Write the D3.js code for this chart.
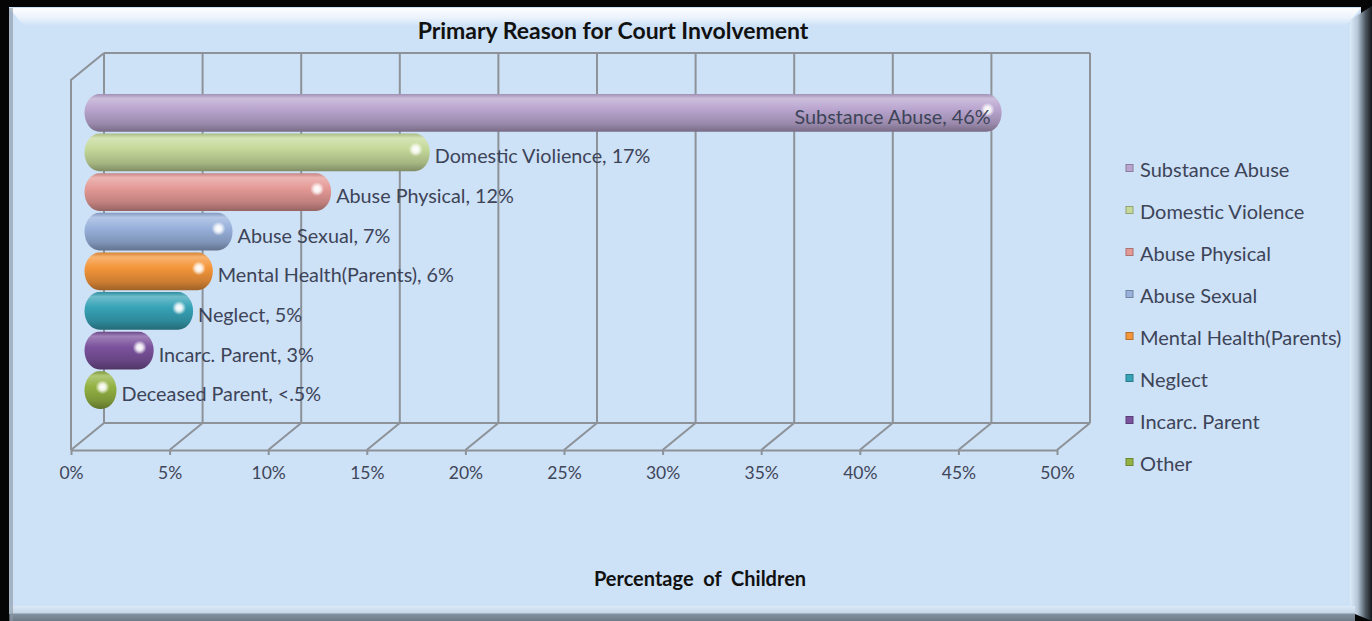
<!DOCTYPE html>
<html>
<head>
<meta charset="utf-8">
<script src="https://cdn.jsdelivr.net/npm/d3@7"></script>
<style>
  html, body { margin: 0; padding: 0; background: #ffffff; }
  svg { display: block; }
  text { font-family: Lato, "Open Sans", sans-serif; }
</style>
</head>
<body>
<svg id="chart" width="1372" height="621"></svg>
<script>
// ---- data ----
const categories = ["Substance Abuse", "Domestic Violience", "Abuse Physical", "Abuse Sexual",
                    "Mental Health(Parents)", "Neglect", "Incarc. Parent", "Deceased Parent"];
const legendNames = ["Substance Abuse", "Domestic Violence", "Abuse Physical", "Abuse Sexual",
                     "Mental Health(Parents)", "Neglect", "Incarc. Parent", "Other"];
const values = [46, 17, 12, 7, 6, 5, 3, 0.4];
const valueLabels = ["46%", "17%", "12%", "7%", "6%", "5%", "3%", "<.5%"];
const tickValues = [0, 5, 10, 15, 20, 25, 30, 35, 40, 45, 50];
const tickLabels = ["0%", "5%", "10%", "15%", "20%", "25%", "30%", "35%", "40%", "45%", "50%"];
const colors = ["#b9a5cf", "#c5d99a", "#e49996", "#98b1dc", "#f4963a", "#37a3b7", "#7b529d", "#93b243"];

const W = 1372, H = 621;
const svg = d3.select("#chart");
const defs = svg.append("defs");

// ---- frame ----
const bg = "#cde1f7";
svg.append("rect").attr("width", W).attr("height", H).attr("fill", "#050505");
svg.append("rect").attr("x", 9).attr("y", 7).attr("width", 1352).attr("height", 607).attr("fill", bg);

const topG = defs.append("linearGradient").attr("id", "topBevel").attr("x1", 0).attr("y1", 0).attr("x2", 0).attr("y2", 1);
topG.append("stop").attr("offset", 0).attr("stop-color", "#ffffff").attr("stop-opacity", 0.95);
topG.append("stop").attr("offset", 0.55).attr("stop-color", "#ffffff").attr("stop-opacity", 0.6);
topG.append("stop").attr("offset", 1).attr("stop-color", "#ffffff").attr("stop-opacity", 0);
svg.append("path").attr("d", "M9,8 L1361,8 L1346,26 L24,26 Z").attr("fill", "url(#topBevel)");

const rightG = defs.append("linearGradient").attr("id", "rightBevel").attr("x1", 0).attr("y1", 0).attr("x2", 1).attr("y2", 0);
rightG.append("stop").attr("offset", 0).attr("stop-color", "#dcebfa");
rightG.append("stop").attr("offset", 0.35).attr("stop-color", "#b6c6d6");
rightG.append("stop").attr("offset", 0.7).attr("stop-color", "#4e5863");
rightG.append("stop").attr("offset", 1).attr("stop-color", "#15181b");
svg.append("path").attr("d", "M1350,20 L1372,6 L1372,621 L1350,612 Z").attr("fill", "url(#rightBevel)");

const botG = defs.append("linearGradient").attr("id", "botBevel").attr("x1", 0).attr("y1", 0).attr("x2", 0).attr("y2", 1);
botG.append("stop").attr("offset", 0).attr("stop-color", "#dbe9f8");
botG.append("stop").attr("offset", 0.45).attr("stop-color", "#c7d6e6");
botG.append("stop").attr("offset", 0.55).attr("stop-color", "#8190a0");
botG.append("stop").attr("offset", 1).attr("stop-color", "#6d7a87");
svg.append("rect").attr("x", 10).attr("y", 606).attr("width", 1345).attr("height", 15).attr("fill", "url(#botBevel)");
svg.append("rect").attr("x", 9).attr("y", 8).attr("width", 4).attr("height", 613).attr("fill", "#8a96a3").attr("opacity", 0.6);

// ---- 3D plot geometry ----
const x = d3.scaleLinear().domain([0, 50]).range([71, 1057]);
const depthX = 33, depthY = -27;
const floorY = 450, wallTop = 53;
const backY = floorY + depthY;
const grid = "#8d9298";

const walls = svg.append("g").attr("fill", "none").attr("stroke", grid).attr("stroke-width", 2);
// back wall gridlines
walls.selectAll("line.v").data(tickValues).join("line")
  .attr("x1", d => x(d) + depthX).attr("x2", d => x(d) + depthX)
  .attr("y1", wallTop).attr("y2", backY);
walls.append("line").attr("x1", x(0) + depthX).attr("x2", x(50) + depthX).attr("y1", wallTop).attr("y2", wallTop);
walls.append("line").attr("x1", x(0) + depthX).attr("x2", x(50) + depthX).attr("y1", backY).attr("y2", backY);
// side wall
walls.append("path").attr("d", `M${x(0)},${floorY} L${x(0)},${wallTop - depthY} L${x(0) + depthX},${wallTop}`);
// floor diagonals
walls.selectAll("line.d").data(tickValues).join("line")
  .attr("x1", d => x(d)).attr("y1", floorY)
  .attr("x2", d => x(d) + depthX).attr("y2", backY);

// front axis with ticks
const axis = d3.axisBottom(x).tickValues(tickValues)
  .tickFormat((d, i) => tickLabels[i]).tickSize(5).tickSizeOuter(0).tickPadding(12);
const ax = svg.append("g").attr("transform", `translate(0,${floorY})`).call(axis);
ax.select(".domain").attr("stroke", grid).attr("stroke-width", 2);
ax.selectAll(".tick line").attr("stroke", grid).attr("stroke-width", 2);
ax.selectAll(".tick text").attr("fill", "#3f4659").attr("font-size", 17.5).attr("font-family", "Lato, sans-serif");

// ---- bars (cylinders at mid depth) ----
const y = d3.scaleBand().domain(categories).range([94, 409]).paddingInner(0.05);
const midX = v => x(v) + depthX / 2;
const bh = y.bandwidth();

colors.forEach((c, i) => {
  const base = d3.color(c);
  const g = defs.append("linearGradient").attr("id", "cyl" + i)
    .attr("x1", 0).attr("y1", 0).attr("x2", 0).attr("y2", 1);
  g.append("stop").attr("offset", 0).attr("stop-color", base.darker(0.4));
  g.append("stop").attr("offset", 0.12).attr("stop-color", d3.interpolateRgb(c, "#ffffff")(0.28));
  g.append("stop").attr("offset", 0.4).attr("stop-color", c);
  g.append("stop").attr("offset", 0.78).attr("stop-color", base.darker(0.5));
  g.append("stop").attr("offset", 1).attr("stop-color", base.darker(1.2));
});
const hl = defs.append("radialGradient").attr("id", "shine");
hl.append("stop").attr("offset", 0).attr("stop-color", "#ffffff").attr("stop-opacity", 1);
hl.append("stop").attr("offset", 0.45).attr("stop-color", "#ffffff").attr("stop-opacity", 0.85);
hl.append("stop").attr("offset", 1).attr("stop-color", "#ffffff").attr("stop-opacity", 0);

const barData = categories.map((name, i) => {
  const x0 = midX(0) - 3;
  const x1 = Math.max(midX(values[i]) + 7, x0 + bh * 0.85);
  return { name, i, v: values[i], label: valueLabels[i], x0, x1 };
});

const bars = svg.append("g");
bars.selectAll("rect").data(barData).join("rect")
  .attr("x", d => d.x0).attr("y", d => y(d.name))
  .attr("width", d => d.x1 - d.x0).attr("height", bh)
  .attr("rx", d => Math.min(15, (d.x1 - d.x0) / 2)).attr("ry", bh / 2)
  .attr("fill", d => `url(#cyl${d.i})`);
bars.selectAll("circle").data(barData).join("circle")
  .attr("cx", d => d.x1 - Math.min(14, (d.x1 - d.x0) / 2))
  .attr("cy", d => y(d.name) + bh * 0.42)
  .attr("r", 7).attr("fill", "url(#shine)");

// data labels
svg.append("g").selectAll("text").data(barData).join("text")
  .attr("x", d => d.i === 0 ? d.x1 - 11 : d.x1 + 5)
  .attr("y", d => y(d.name) + bh / 2 + 3)
  .attr("text-anchor", d => d.i === 0 ? "end" : "start")
  .attr("dominant-baseline", "central")
  .attr("fill", "#3d4458").attr("font-size", 19.8)
  .text(d => `${d.name}, ${d.label}`);

// ---- legend ----
const ly = d3.scaleLinear().domain([0, 7]).range([168, 462]);
const leg = svg.append("g").selectAll("g").data(legendNames).join("g")
  .attr("transform", (d, i) => `translate(1126,${ly(i)})`);
leg.append("rect").attr("x", 0).attr("y", -3.5).attr("width", 7).attr("height", 7)
  .attr("fill", (d, i) => colors[i]).attr("stroke", (d, i) => d3.color(colors[i]).darker(0.8)).attr("stroke-width", 1);
leg.append("text").attr("x", 14).attr("y", 1).attr("dominant-baseline", "central")
  .attr("fill", "#3d4458").attr("font-size", 20).text(d => d);

// ---- titles ----
svg.append("text").attr("x", 613).attr("y", 30).attr("text-anchor", "middle")
  .attr("dominant-baseline", "central").attr("font-weight", "bold").attr("font-size", 23)
  .attr("fill", "#111111").text("Primary Reason for Court Involvement");
svg.append("text").attr("x", 700).attr("y", 578).attr("text-anchor", "middle")
  .attr("dominant-baseline", "central").attr("font-weight", "bold").attr("font-size", 20)
  .attr("fill", "#111111").attr("xml:space", "preserve").style("white-space", "pre")
  .text("Percentage  of  Children");
</script>
</body>
</html>
